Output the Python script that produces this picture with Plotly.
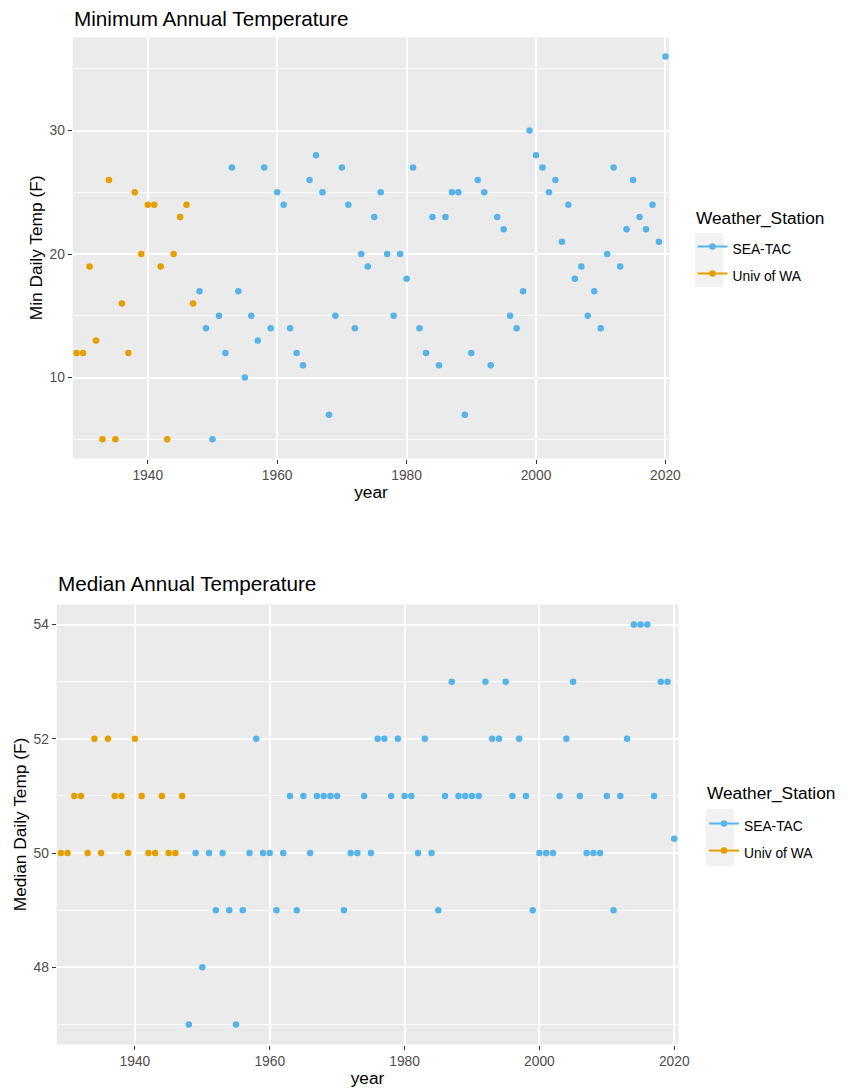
import plotly.graph_objects as go

# ---------------- data ----------------
uw_years = [1929, 1930, 1931, 1932, 1933, 1934, 1935, 1936, 1937, 1938,
            1939, 1940, 1941, 1942, 1943, 1944, 1945, 1946, 1947]
uw_min = [12, 12, 19, 13, 5, 26, 5, 16, 12, 25, 20, 24, 24, 19, 5, 20, 23, 24, 16]
uw_med = [50, 50, 51, 51, 50, 52, 50, 52, 51, 51, 50, 52, 51, 50, 50, 51, 50, 50, 51]

sea_years = [1948, 1949, 1950, 1951, 1952, 1953, 1954, 1955, 1956, 1957,
             1958, 1959, 1960, 1961, 1962, 1963, 1964, 1965, 1966, 1967,
             1968, 1969, 1970, 1971, 1972, 1973, 1974, 1975, 1976, 1977,
             1978, 1979, 1980, 1981, 1982, 1983, 1984, 1985, 1986, 1987,
             1988, 1989, 1990, 1991, 1992, 1993, 1994, 1995, 1996, 1997,
             1998, 1999, 2000, 2001, 2002, 2003, 2004, 2005, 2006, 2007,
             2008, 2009, 2010, 2011, 2012, 2013, 2014, 2015, 2016, 2017,
             2018, 2019, 2020]
sea_min = [17, 14, 5, 15, 12, 27, 17, 10, 15, 13,
           27, 14, 25, 24, 14, 12, 11, 26, 28, 25,
           7, 15, 27, 24, 14, 20, 19, 23, 25, 20,
           15, 20, 18, 27, 14, 12, 23, 11, 23, 25,
           25, 7, 12, 26, 25, 11, 23, 22, 15, 14,
           17, 30, 28, 27, 25, 26, 21, 24, 18, 19,
           15, 17, 14, 20, 27, 19, 22, 26, 23, 22,
           24, 21, 36]
sea_med = [47, 50, 48, 50, 49, 50, 49, 47, 49, 50,
           52, 50, 50, 49, 50, 51, 49, 51, 50, 51,
           51, 51, 51, 49, 50, 50, 51, 50, 52, 52,
           51, 52, 51, 51, 50, 52, 50, 49, 51, 53,
           51, 51, 51, 51, 53, 52, 52, 53, 51, 52,
           51, 49, 50, 50, 50, 51, 52, 53, 51, 50,
           50, 50, 51, 49, 51, 52, 54, 54, 54, 51,
           53, 53, 50.25]

stations = ["SEA-TAC", "Univ of WA"]
colors = {"SEA-TAC": "#56B4E9", "Univ of WA": "#E69F00"}

titles = ["Minimum Annual Temperature", "Median Annual Temperature"]
ytitles = ["Min Daily Temp (F)", "Median Daily Temp (F)"]
legend_title = "Weather_Station"

# ---------------- style / layout ----------------
W, H = 848, 1091
FONT = "Liberation Sans, Arial, sans-serif"
TICK = 13.8
AXT = 17.3
TTL = 20.7


def px_x(p):
    return p / W


def px_y(p):
    return 1 - p / H


fig = go.Figure()

panels = [
    dict(xa="x", ya="y", leg="legend", uw=uw_min, sea=sea_min),
    dict(xa="x2", ya="y2", leg="legend2", uw=uw_med, sea=sea_med),
]

for p in panels:
    fig.add_trace(go.Scatter(x=sea_years, y=p["sea"], mode="markers",
                             marker=dict(color=colors["SEA-TAC"], size=6.5),
                             xaxis=p["xa"], yaxis=p["ya"], showlegend=False,
                             name="SEA-TAC"))
    fig.add_trace(go.Scatter(x=uw_years, y=p["uw"], mode="markers",
                             marker=dict(color=colors["Univ of WA"], size=6.5),
                             xaxis=p["xa"], yaxis=p["ya"], showlegend=False,
                             name="Univ of WA"))
    # legend keys (point + line, as in ggplot's key glyph)
    for s in stations:
        fig.add_trace(go.Scatter(x=[None], y=[None], mode="lines+markers",
                                 marker=dict(color=colors[s], size=6.5),
                                 line=dict(color=colors[s], width=2),
                                 xaxis=p["xa"], yaxis=p["ya"], legend=p["leg"],
                                 name='<span style="font-size:%.1fpx">%s</span>' % (TICK, s)))


def xaxis_cfg(left, right, top, bottom):
    return dict(domain=[px_x(left), px_x(right)], range=[1928.4, 2020.6],
                tick0=1940, dtick=20, ticks="outside", ticklen=4,
                tickcolor="#333333", tickwidth=1,
                tickfont=dict(family=FONT, size=TICK, color="#4D4D4D"),
                showgrid=True, gridcolor="white", gridwidth=1.5,
                zeroline=False, showline=False, automargin=False,
                title=dict(text="year", font=dict(family=FONT, size=AXT, color="black"),
                           standoff=3))


def yaxis_cfg(top, bottom, rng, dtick, mdtick, standoff):
    return dict(domain=[px_y(bottom), px_y(top)], range=rng,
                tick0=0, dtick=dtick, ticks="outside", ticklen=4,
                tickcolor="#333333", tickwidth=1,
                tickfont=dict(family=FONT, size=TICK, color="#4D4D4D"),
                showgrid=True, gridcolor="white", gridwidth=1.5,
                minor=dict(dtick=mdtick, tick0=0, showgrid=True,
                           gridcolor="white", gridwidth=0.75, ticks=""),
                zeroline=False, showline=False, automargin=False,
                title=dict(text="", font=dict(family=FONT, size=AXT, color="black"),
                           standoff=standoff))


# panel pixel boxes
P1 = dict(left=72.7, right=669.3, top=37.3, bottom=458.5)
P2 = dict(left=56.7, right=678.3, top=604.5, bottom=1044.5)

xa1 = xaxis_cfg(**P1); xa1["anchor"] = "y"
xa2 = xaxis_cfg(**P2); xa2["anchor"] = "y2"
ya1 = yaxis_cfg(P1["top"], P1["bottom"], [3.45, 37.55], 10, 5, 2)
ya1["anchor"] = "x"; ya1["title"]["text"] = ytitles[0]
ya2 = yaxis_cfg(P2["top"], P2["bottom"], [46.65, 54.35], 2, 1, 2)
ya2["anchor"] = "x2"; ya2["title"]["text"] = ytitles[1]

legend_common = dict(
    bgcolor="rgba(0,0,0,0)", borderwidth=0,
    font=dict(family=FONT, size=18.5, color="black"),
    itemwidth=30, xanchor="left", yanchor="top", tracegroupgap=0,
)


def text_ann(text, x, y, size):
    return dict(text=text, xref="paper", yref="paper", x=px_x(x), y=px_y(y),
                xanchor="left", yanchor="middle", showarrow=False,
                font=dict(family=FONT, size=size, color="black"))


fig.update_layout(
    width=W, height=H,
    margin=dict(l=0, r=0, t=0, b=0),
    paper_bgcolor="white", plot_bgcolor="#EBEBEB",
    font=dict(family=FONT, color="black"),
    xaxis=xa1, yaxis=ya1, xaxis2=xa2, yaxis2=ya2,
    legend=dict(legend_common, x=px_x(692.5), y=px_y(228)),
    legend2=dict(legend_common, x=px_x(704), y=px_y(805)),
    annotations=[
        text_ann(titles[0], 72, 18.5, TTL),
        text_ann(titles[1], 56, 583, TTL),
        text_ann(legend_title, 694, 218, AXT),
        text_ann(legend_title, 705, 793, AXT),
    ],
    shapes=[
        dict(type="rect", xref="paper", yref="paper", layer="below",
             x0=px_x(695), x1=px_x(723), y0=px_y(287), y1=px_y(233),
             fillcolor="#F2F2F2", line=dict(width=0)),
        dict(type="rect", xref="paper", yref="paper", layer="below",
             x0=px_x(706), x1=px_x(734), y0=px_y(866), y1=px_y(809),
             fillcolor="#F2F2F2", line=dict(width=0)),
    ],
)

fig.write_html("out.html")
